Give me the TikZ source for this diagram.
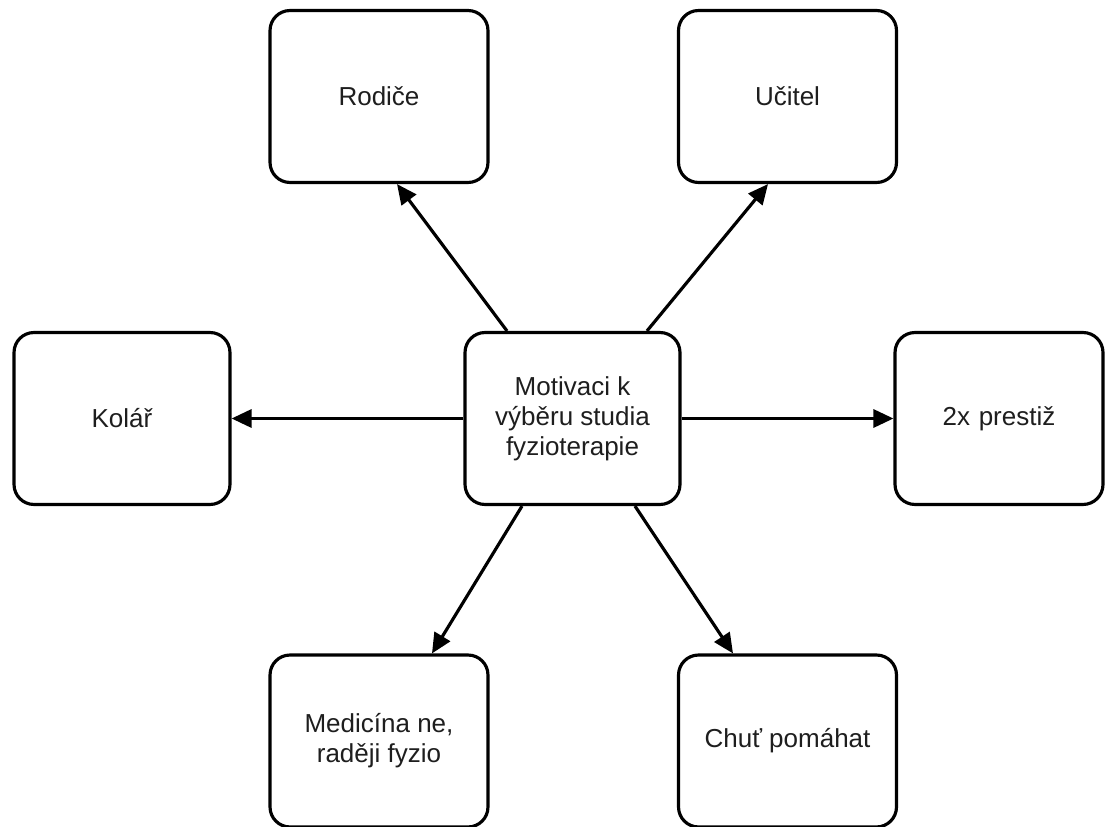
\documentclass[tikz,border=0pt]{standalone}
\usepackage{fontspec}
\setmainfont{Liberation Sans}
\usetikzlibrary{arrows.meta}
\definecolor{ink}{HTML}{1E1E1E}
\begin{document}
\begin{tikzpicture}[x=0.02cm,y=-0.02cm,
  box/.style={draw=black, line width=1.8pt, rounded corners=0.4cm, fill=white,
    minimum width=4.36cm, minimum height=3.44cm, align=center, inner sep=0pt,
    text=ink, font=\fontsize{14.8}{17.2}\selectfont},
  link/.style={line width=1.8pt, -{Triangle[length=0.4cm,width=0.36cm]}}]
  \useasboundingbox (0,0) rectangle (1105,827);
  \fill[white] (0,0) rectangle (1105,827);

  % central topic
  \node[box, minimum width=4.3cm] (c) at (572.5,418.5) {Motivaci k\\výběru studia\\fyzioterapie};

  % motives around it
  \node[box] (rod)  at (379,96.5)   {Rodiče};
  \node[box] (uci)  at (787.5,96.5) {Učitel};
  \node[box, minimum width=4.32cm] (kol) at (122,418.5) {Kolář};
  \node[box, minimum width=4.16cm, text width=3.5cm] (pre) at (999,418.5) {2x prestiž};
  \node[box] (med)  at (379,741)    {Medicína ne,\\raději fyzio};
  \node[box] (chut) at (787.5,741)  {Chuť pomáhat};

  % connectors
  \draw[link] ([xshift=-1.31cm]c.north) -- ([xshift=0.36cm]rod.south);
  \draw[link] ([xshift=1.49cm]c.north)  -- ([xshift=-0.39cm]uci.south);
  \draw[link] (c.west) -- (kol.east);
  \draw[link] (c.east) -- (pre.west);
  \draw[link] ([xshift=-1.01cm]c.south) -- ([xshift=1.06cm]med.north);
  \draw[link] ([xshift=1.25cm]c.south)  -- ([xshift=-1.09cm]chut.north);
\end{tikzpicture}
\end{document}
